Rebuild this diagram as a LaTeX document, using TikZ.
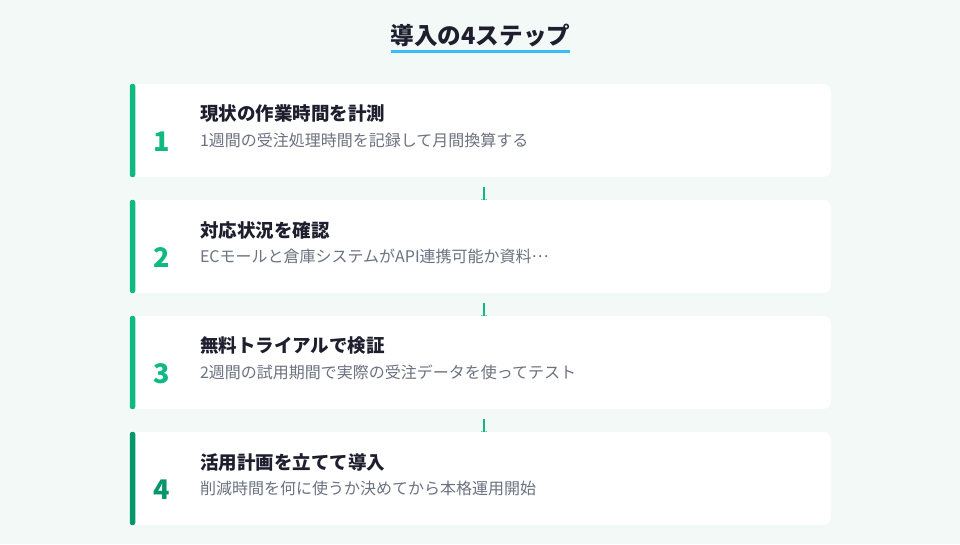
\documentclass[tikz,border=0pt]{standalone}
\usepackage{fontspec}
\setmainfont{Noto Sans CJK JP}
\usetikzlibrary{calc,arrows.meta,backgrounds}
\definecolor{bgc}{HTML}{F3F9F7}
\definecolor{grn}{HTML}{10B981}
\definecolor{dgrn}{HTML}{059669}
\definecolor{ink}{HTML}{1E1E2E}
\definecolor{subc}{HTML}{6B7280}
\definecolor{sky}{HTML}{38BDF8}
\newcommand{\midell}{\raisebox{0.3em}{…}}
\tikzset{
  card/.style={fill=white, draw=none, rounded corners=8pt, minimum width=701pt, minimum height=93pt, inner sep=0pt},
  numtxt/.style={font=\fontsize{27}{30}\selectfont\bfseries, inner sep=0pt},
  ttl/.style={font=\fontsize{18.5}{22}\selectfont\bfseries, text=ink, anchor=west, inner sep=0pt},
  subt/.style={font=\fontsize{16}{19}\selectfont, text=subc, anchor=west, inner sep=0pt},
  conn/.style={draw=grn, line width=2pt, -{Stealth[length=6pt,width=6pt]}},
}
\begin{document}
\begin{tikzpicture}[x=1pt,y=-1pt]
\useasboundingbox (0,0) rectangle (960,544);
\node[font=\fontsize{23.6}{26}\selectfont\bfseries, text=ink, inner sep=0pt] (head) at (480.5,36) {導入の4ステップ};
\draw[sky, line width=3pt] ($(head.west |- 0,51.5)+(0,0)$) -- ($(head.east |- 0,51.5)$);

\foreach \i/\c/\t/\s in {
  1/grn/現状の作業時間を計測/1週間の受注処理時間を記録して月間換算する,
  2/grn/対応状況を確認/ECモールと倉庫システムがAPI連携可能か資料\midell,
  3/grn/無料トライアルで検証/2週間の試用期間で実際の受注データを使ってテスト,
  4/dgrn/活用計画を立てて導入/削減時間を何に使うか決めてから本格運用開始}{
  \node[card] (card\i) at (480.5,{130.5+116*(\i-1)}) {};
  \fill[\c, rounded corners=2.5pt] (card\i.north west) rectangle ($(card\i.south west)+(5.5,0)$);
  \node[numtxt, text=\c] (num\i) at ($(card\i.west)+(32,11)$) {\i};
  \node[ttl] (ttl\i) at ($(card\i.west)+(70,-16.5)$) {\t};
  \node[subt] (sub\i) at ($(card\i.west)+(70,9.5)$) {\s};
}
\begin{scope}[on background layer]
\fill[bgc] (0,0) rectangle (960,544);
\foreach \a/\b in {1/2,2/3,3/4}{
  \draw[conn] ($(card\a.south)+(3.5,10)$) -- ($(card\b.north)+(3.5,5)$);
}
\end{scope}
\end{tikzpicture}
\end{document}
